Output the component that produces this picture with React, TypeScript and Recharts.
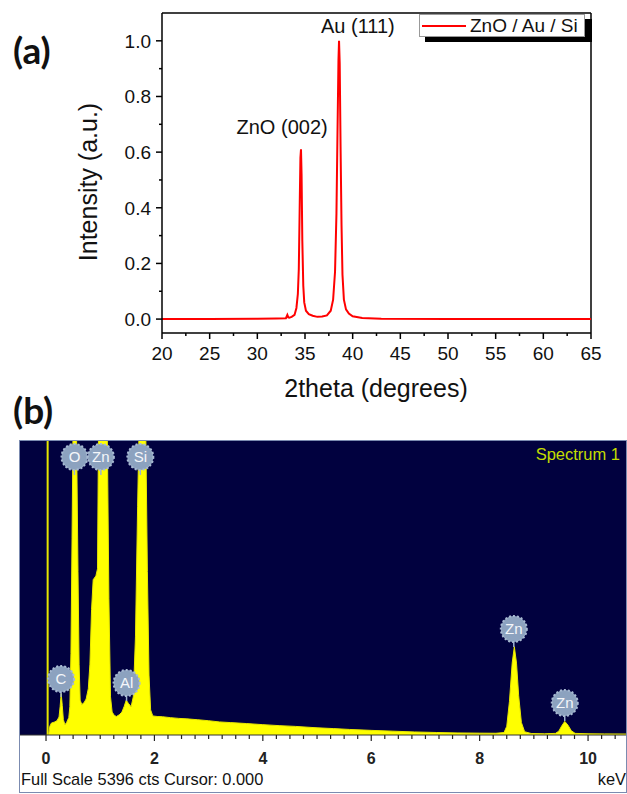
import {
  LineChart,
  Line,
  AreaChart,
  Area,
  XAxis,
  YAxis,
  CartesianGrid,
  ReferenceDot,
  ReferenceLine,
} from "recharts";

// ---- (a) XRD pattern ----
const xrdTheta = [
  20, 25, 30, 32, 33, 33.15, 33.25, 33.35, 33.6, 33.9, 34.1, 34.25, 34.35, 34.45, 34.52,
  34.58, 34.64, 34.72, 34.82, 34.92, 35.1, 35.4, 35.8, 36.3, 36.8, 37.3, 37.7, 37.95, 38.15,
  38.3, 38.42, 38.51, 38.57, 38.64, 38.73, 38.83, 38.93, 39.08, 39.3, 39.6, 40.0, 41, 43, 50, 65,
];
const xrdIntensity = [
  0, 0, 0.001, 0.002, 0.003, 0.015, 0.006, 0.005, 0.008, 0.015, 0.04, 0.09, 0.18, 0.42, 0.58,
  0.61, 0.52, 0.28, 0.12, 0.06, 0.03, 0.018, 0.012, 0.008, 0.009, 0.013, 0.03, 0.07, 0.17,
  0.38, 0.7, 0.93, 1.0, 0.92, 0.62, 0.34, 0.16, 0.07, 0.035, 0.02, 0.01, 0.004, 0.001, 0, 0,
];
const xrdXMajor = [20, 25, 30, 35, 40, 45, 50, 55, 60, 65];
const xrdXMinor = [22.5, 27.5, 32.5, 37.5, 42.5, 47.5, 52.5, 57.5, 62.5];
const xrdYMajor = [0, 0.2, 0.4, 0.6, 0.8, 1.0];
const xrdYMinor = [0.1, 0.3, 0.5, 0.7, 0.9];
const xrdPeakNames = ["ZnO (002)", "Au (111)"];
const xrdPeakLabelTheta = [32.6, 40.55];
const xrdPeakLabelY = [0.69, 1.055];

// ---- (b) EDX spectrum ----
const edxKev = [
  0.05, 0.07, 0.1, 0.15, 0.2, 0.24, 0.26, 0.28, 0.3, 0.32, 0.35, 0.38, 0.42, 0.44, 0.46, 0.48,
  0.5, 0.53, 0.56, 0.59, 0.61, 0.63, 0.66, 0.7, 0.74, 0.78, 0.81, 0.84, 0.87, 0.92, 0.95, 0.97,
  1.0, 1.1, 1.13, 1.16, 1.19, 1.22, 1.26, 1.3, 1.35, 1.4, 1.44, 1.48, 1.52, 1.57, 1.61, 1.65,
  1.69, 1.72, 1.75, 1.81, 1.84, 1.87, 1.9, 1.93, 1.97, 2.05, 2.15, 2.3, 2.45, 2.6, 2.8, 3.0,
  3.2, 3.4, 3.7, 4.0, 4.3, 4.6, 5.0, 5.3, 5.6, 6.0, 6.4, 6.8, 7.2, 7.6, 8.0, 8.3, 8.45, 8.5,
  8.55, 8.6, 8.64, 8.68, 8.72, 8.77, 8.83, 8.95, 9.2, 9.4, 9.46, 9.51, 9.57, 9.63, 9.69, 9.76,
  10.0, 10.3, 10.7,
];
const edxCounts = [
  0, 160, 220, 235, 260, 330, 520, 760, 540, 280, 190, 230, 320, 520, 1500, 3600,
  5800, 7000, 5800, 3000, 1300, 640, 560, 590, 660, 850, 1300, 2300, 2850, 2920, 3050, 5800,
  7000, 7000, 5600, 2500, 700, 420, 360, 340, 370, 420, 520, 640, 580, 520, 700, 1800,
  4200, 5800, 7000, 7000, 5600, 3000, 1100, 460, 350, 340, 335, 318, 305, 296, 280, 262,
  240, 228, 210, 190, 172, 158, 132, 118, 102, 85, 70, 56, 46, 38, 34, 32, 45, 160,
  620, 1320, 1620, 1320, 720, 230, 60, 28, 22, 30, 70, 160, 250, 180, 80, 30,
  22, 20, 18,
];
const edxXMajor = [0, 2, 4, 6, 8, 10];
const edxXMinor = [
  0.25, 0.5, 0.75, 1, 1.25, 1.5, 1.75, 2.25, 2.5, 2.75, 3, 3.25, 3.5, 3.75, 4.25, 4.5, 4.75,
  5, 5.25, 5.5, 5.75, 6.25, 6.5, 6.75, 7, 7.25, 7.5, 7.75, 8.25, 8.5, 8.75, 9, 9.25, 9.5,
  9.75, 10.25, 10.5,
];
const edxFullScale = 5396;
const edxLabelNames = ["C", "O", "Zn", "Al", "Si", "Zn", "Zn"];
const edxLabelKev = [0.277, 0.525, 1.012, 1.486, 1.74, 8.63, 9.57];
const edxLabelCts = [1028, 5102, 5102, 954, 5102, 1945, 587];

const xrdData = xrdTheta.map((t, i) => ({ theta: t, intensity: xrdIntensity[i] }));
const edxData = edxKev.map((k, i) => ({ kev: k, cts: edxCounts[i] }));

const FONT = "'Liberation Sans', Arial, sans-serif";

function XrdXTick({ x, y, payload }: any) {
  const major = xrdXMajor.includes(payload.value);
  return (
    <g>
      <line x1={x} x2={x} y1={y} y2={y + (major ? 6 : 3)} stroke="#000" strokeWidth={1.5} />
      {major && (
        <text x={x} y={y + 27} textAnchor="middle" fontSize={19} fontFamily={FONT} fill="#111">
          {payload.value}
        </text>
      )}
    </g>
  );
}

function XrdYTick({ x, y, payload }: any) {
  const major = xrdYMajor.includes(payload.value);
  return (
    <g>
      <line x1={x - (major ? 6 : 3)} x2={x} y1={y} y2={y} stroke="#000" strokeWidth={1.5} />
      {major && (
        <text x={x - 11} y={y + 7} textAnchor="end" fontSize={19} fontFamily={FONT} fill="#111">
          {payload.value.toFixed(1)}
        </text>
      )}
    </g>
  );
}

function EdxXTick({ x, y, payload }: any) {
  const major = edxXMajor.includes(payload.value);
  return (
    <g>
      <line x1={x} x2={x} y1={y} y2={y + (major ? 6 : 4)} stroke="#222" strokeWidth={1.2} />
      {major && (
        <text
          x={x}
          y={y + 29}
          textAnchor="middle"
          fontSize={16}
          fontWeight="bold"
          fontFamily={FONT}
          fill="#222"
        >
          {payload.value}
        </text>
      )}
    </g>
  );
}

function ElementBadge(props: any) {
  const { cx, cy, name } = props;
  return (
    <g>
      <line x1={cx} x2={cx} y1={cy + 12} y2={cy + 18} stroke="#9fb4cf" strokeWidth={1.5} />
      <circle cx={cx} cy={cy} r={13} fill="#8ca2bf" stroke="#a8bad2" strokeWidth={2} strokeDasharray="2 2" />
      <text x={cx} y={cy + 5} textAnchor="middle" fontSize={15} fontFamily={FONT} fill="#f4f6fa">
        {name}
      </text>
    </g>
  );
}

const abs = (s: any) => ({ position: "absolute" as const, fontFamily: FONT, whiteSpace: "nowrap" as const, lineHeight: 1, ...s });

export default function App() {
  return (
    <div style={{ position: "absolute", left: 0, top: 0, width: 627, height: 794, background: "#fff", overflow: "hidden" }}>
      {/* panel (a) */}
      <div style={{ position: "absolute", left: 0, top: 0 }}>
        <LineChart width={627} height={400} data={xrdData} margin={{ top: 13, right: 36, bottom: 37, left: 102 }}>
          <XAxis
            dataKey="theta"
            type="number"
            domain={[20, 65]}
            ticks={[...xrdXMajor, ...xrdXMinor].sort((a, b) => a - b)}
            interval={0}
            tick={<XrdXTick />}
            tickLine={false}
            tickSize={0}
            tickMargin={0}
            height={30}
            axisLine={{ stroke: "#000", strokeWidth: 1.5 }}
          />
          <YAxis
            type="number"
            domain={[-0.05, 1.1]}
            ticks={[...xrdYMajor, ...xrdYMinor].sort((a, b) => a - b)}
            interval={0}
            tick={<XrdYTick />}
            tickLine={false}
            tickSize={0}
            tickMargin={0}
            width={60}
            axisLine={{ stroke: "#000", strokeWidth: 1.5 }}
          />
          <ReferenceLine y={1.1} stroke="#000" strokeWidth={1.5} />
          <ReferenceLine x={65} stroke="#000" strokeWidth={1.5} />
          <Line
            type="linear"
            dataKey="intensity"
            stroke="#ff0000"
            strokeWidth={2}
            dot={false}
            isAnimationActive={false}
          />
          {xrdPeakNames.map((n, i) => (
            <ReferenceDot
              key={n}
              x={xrdPeakLabelTheta[i]}
              y={xrdPeakLabelY[i]}
              r={0}
              shape={(p: any) => (
                <text x={p.cx} y={p.cy + 7} textAnchor="middle" fontSize={20} fontFamily={FONT} fill="#111">
                  {n}
                </text>
              )}
            />
          ))}
        </LineChart>
      </div>

      {/* legend (a) */}
      <div style={{ position: "absolute", left: 425, top: 19, width: 167, height: 23, background: "#000" }} />
      <div style={{ position: "absolute", left: 419, top: 14, width: 166, height: 23, background: "#fff", border: "1px solid #999", boxSizing: "border-box" }} />
      <div style={{ position: "absolute", left: 422, top: 25, width: 44, height: 2, background: "#ff0000" }} />
      <div style={abs({ left: 470, top: 16, fontSize: 19, color: "#111" })}>ZnO / Au / Si</div>

      <div style={abs({ left: 13, top: 31, fontSize: 37, fontWeight: "bold", fontFamily: "Lato, 'Open Sans', sans-serif", color: "#111" })}>(a)</div>
      <div style={abs({ left: 88, top: 182, fontSize: 25, color: "#111", transform: "translate(-50%, -50%) rotate(-90deg)" })}>
        Intensity (a.u.)
      </div>
      <div style={abs({ left: 376, top: 388, fontSize: 25, color: "#111", transform: "translate(-50%, -50%)" })}>
        2theta (degrees)
      </div>

      {/* panel (b) */}
      <div style={abs({ left: 13, top: 391, fontSize: 37, fontWeight: "bold", fontFamily: "Lato, 'Open Sans', sans-serif", color: "#111" })}>(b)</div>
      <div style={{ position: "absolute", left: 19, top: 440, width: 608, height: 353, border: "1px solid #7b8bb0", boxSizing: "border-box" }} />
      <div style={{ position: "absolute", left: 20, top: 441 }}>
        <AreaChart width={606} height={351} data={edxData} margin={{ top: 0, right: 0, bottom: 0, left: 0 }}>
          <CartesianGrid horizontal={false} vertical={false} fill="#01013f" fillOpacity={1} />
          <XAxis
            dataKey="kev"
            type="number"
            domain={[-0.48, 10.7]}
            allowDataOverflow
            ticks={[...edxXMajor, ...edxXMinor].sort((a, b) => a - b)}
            interval={0}
            tick={<EdxXTick />}
            tickLine={false}
            tickSize={0}
            tickMargin={0}
            height={57}
            axisLine={{ stroke: "#333", strokeWidth: 1 }}
          />
          <YAxis type="number" domain={[0, edxFullScale]} allowDataOverflow hide />
          <ReferenceLine x={0.03} stroke="#e6e600" strokeWidth={2} />
          <Area
            type="linear"
            dataKey="cts"
            stroke="#e8e800"
            strokeWidth={1}
            fill="#ffff00"
            fillOpacity={1}
            isAnimationActive={false}
          />
          {edxLabelNames.map((n, i) => (
            <ReferenceDot
              key={i}
              x={edxLabelKev[i]}
              y={edxLabelCts[i]}
              r={0}
              shape={(p: any) => <ElementBadge cx={p.cx} cy={p.cy} name={n} />}
            />
          ))}
        </AreaChart>
      </div>
      <div style={abs({ right: 7, top: 446, fontSize: 16.5, color: "#c3dc00" })}>Spectrum 1</div>
      <div style={abs({ left: 21, top: 771, fontSize: 16.4, color: "#111" })}>Full Scale 5396 cts Cursor: 0.000</div>
      <div style={abs({ right: 1, top: 771, fontSize: 16.4, color: "#111" })}>keV</div>
    </div>
  );
}
